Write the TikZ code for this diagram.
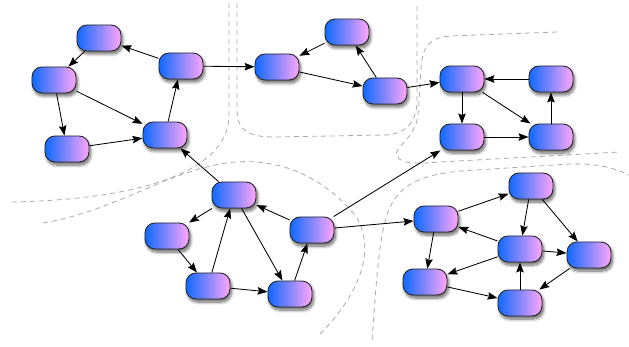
\documentclass[tikz,border=0pt]{standalone}
\usetikzlibrary{arrows.meta,shadows.blur}
\definecolor{nodeblue}{RGB}{15,105,255}
\definecolor{nodepink}{RGB}{255,165,250}
\definecolor{dashgray}{RGB}{170,170,170}
\tikzset{
  box/.style={draw=black!85, line width=0.9pt, rounded corners=10pt,
    minimum width=44pt, minimum height=26pt, inner sep=0pt,
    left color=nodeblue, right color=nodepink,
    blur shadow={shadow xshift=1.5pt, shadow yshift=-3pt, shadow blur radius=3pt, shadow blur steps=8, shadow opacity=60}},
  link/.style={-{Stealth[length=10pt,width=7.5pt,inset=1.5pt]}, line width=0.85pt, black},
  border/.style={dashgray, line width=0.8pt, dash pattern=on 5pt off 4pt}
}
\begin{document}
\begin{tikzpicture}[x=1pt,y=-1pt]
\useasboundingbox (0,0) rectangle (629,347);
% dashed region borders
\draw[border] (229,3) -- (229,115) .. controls (229,175) and (130,200) .. (10,202);
\draw[border] (237,3) -- (237,110) .. controls (237,132) and (250,137) .. (275,137) -- (385,135) .. controls (408,134) and (417,120) .. (417,100) -- (417,5);
\draw[border] (557,32) -- (450,36) .. controls (426,38) and (422,50) .. (421,70) -- (418,115) .. controls (415,140) and (392,148) .. (397,156) .. controls (401,164) and (415,164) .. (440,162) -- (620,152);
\draw[border] (372,340) .. controls (376,290) and (378,240) .. (388,212) .. controls (398,185) and (420,175) .. (460,171) -- (570,164) .. controls (595,163) and (615,168) .. (629,175);
\draw[border] (43,223) .. controls (120,210) and (170,168) .. (235,162) .. controls (290,158) and (330,185) .. (355,215) .. controls (375,245) and (365,290) .. (317,337);
% nodes
\node[box] (A) at (99,38) {};
\node[box] (B) at (54,80) {};
\node[box] (C) at (181,66) {};
\node[box] (D) at (67,149) {};
\node[box] (E) at (165,135) {};
\node[box] (F) at (277,67) {};
\node[box] (G) at (347,32) {};
\node[box] (H) at (385,91) {};
\node[box] (I) at (462,79) {};
\node[box] (J) at (551,79) {};
\node[box] (K) at (462,137) {};
\node[box] (L) at (551,137) {};
\node[box] (M) at (234,195) {};
\node[box] (N) at (167,236) {};
\node[box] (O) at (208,286) {};
\node[box] (P) at (290,294) {};
\node[box] (Q) at (312,230) {};
\node[box] (R) at (436,219) {};
\node[box] (S) at (531,186) {};
\node[box] (T) at (520,249) {};
\node[box] (U) at (589,255) {};
\node[box] (V) at (425,282) {};
\node[box] (W) at (520,303) {};
% connectors
\draw[link] (C) -- (A);
\draw[link] (A) -- (B);
\draw[link] (B) -- (D);
\draw[link] (B) -- (E);
\draw[link] (D) -- (E);
\draw[link] (E) -- (C);
\draw[link] (C) -- (F);
\draw[link] (G) -- (F);
\draw[link] (F) -- (H);
\draw[link] (H) -- (G);
\draw[link] (H) -- (I);
\draw[link] (J) -- (I);
\draw[link] (I) -- (K);
\draw[link] (I) -- (L);
\draw[link] (K) -- (L);
\draw[link] (L) -- (J);
\draw[link] (M) -- (E);
\draw[link] (M) -- (N);
\draw[link] (N) -- (O);
\draw[link] (O) -- (M);
\draw[link] (M) -- (P);
\draw[link] (O) -- (P);
\draw[link] (P) -- (Q);
\draw[link] (Q) -- (M);
\draw[link] (Q) -- (K);
\draw[link] (Q) -- (R);
\draw[link] (R) -- (S);
\draw[link] (R) -- (V);
\draw[link] (S) -- (T);
\draw[link] (S) -- (U);
\draw[link] (T) -- (R);
\draw[link] (T) -- (V);
\draw[link] (T) -- (U);
\draw[link] (U) -- (W);
\draw[link] (W) -- (T);
\draw[link] (V) -- (W);
\end{tikzpicture}
\end{document}
